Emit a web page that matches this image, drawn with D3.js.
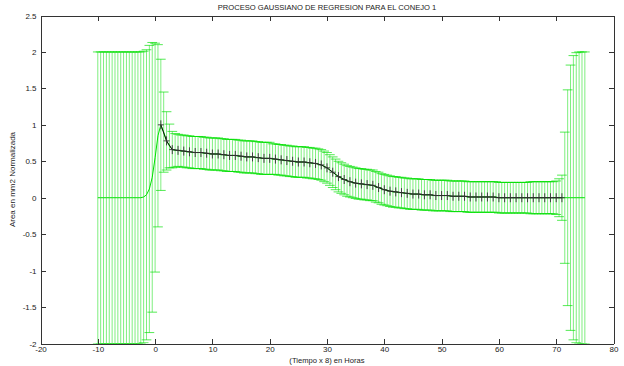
<!DOCTYPE html>
<html>
<head>
<meta charset="utf-8">
<script src="https://cdn.jsdelivr.net/npm/d3@7"></script>
<style>
  html, body { margin: 0; padding: 0; background: #fff; }
  svg { display: block; font-family: "Liberation Sans", Arial, sans-serif; }
</style>
</head>
<body>
<div id="chart"></div>
<script>
// GP prediction grid (Tiempo x 8), mean and 2-sigma band
const gpX = [
  -10, -9.5, -9, -8.5, -8, -7.5, -7, -6.5, -6, -5.5, -5, -4.5, -4, -3.5, -3, -2.5, -2, -1.5, -1, -0.5,
  0, 0.5, 1, 1.5, 2, 2.5, 3, 3.5, 4, 4.5, 5, 5.5, 6, 6.5, 7, 7.5, 8, 8.5, 9, 9.5,
  10, 10.5, 11, 11.5, 12, 12.5, 13, 13.5, 14, 14.5, 15, 15.5, 16, 16.5, 17, 17.5, 18, 18.5, 19, 19.5,
  20, 20.5, 21, 21.5, 22, 22.5, 23, 23.5, 24, 24.5, 25, 25.5, 26, 26.5, 27, 27.5, 28, 28.5, 29, 29.5,
  30, 30.5, 31, 31.5, 32, 32.5, 33, 33.5, 34, 34.5, 35, 35.5, 36, 36.5, 37, 37.5, 38, 38.5, 39, 39.5,
  40, 40.5, 41, 41.5, 42, 42.5, 43, 43.5, 44, 44.5, 45, 45.5, 46, 46.5, 47, 47.5, 48, 48.5, 49, 49.5,
  50, 50.5, 51, 51.5, 52, 52.5, 53, 53.5, 54, 54.5, 55, 55.5, 56, 56.5, 57, 57.5, 58, 58.5, 59, 59.5,
  60, 60.5, 61, 61.5, 62, 62.5, 63, 63.5, 64, 64.5, 65, 65.5, 66, 66.5, 67, 67.5, 68, 68.5, 69, 69.5,
  70, 70.5, 71, 71.5, 72, 72.5, 73, 73.5, 74, 74.5, 75
];

const gpMean = [
  0, 0, 0, 0, 0, 0, 0, 0, 0, 0, 0, 0, 0, 0, 0, 0, 0.01, 0.04, 0.12, 0.28,
  0.55, 0.85, 1.00, 0.90, 0.78, 0.71, 0.66, 0.65, 0.65, 0.64, 0.64, 0.63, 0.63, 0.62, 0.62, 0.62, 0.62, 0.61, 0.61, 0.60,
  0.60, 0.60, 0.60, 0.59, 0.59, 0.58, 0.58, 0.58, 0.58, 0.57, 0.57, 0.56, 0.56, 0.56, 0.56, 0.55, 0.55, 0.54, 0.54, 0.54,
  0.54, 0.53, 0.53, 0.52, 0.52, 0.51, 0.51, 0.50, 0.50, 0.49, 0.49, 0.49, 0.49, 0.48, 0.48, 0.47, 0.47, 0.46, 0.45, 0.43,
  0.41, 0.38, 0.35, 0.32, 0.29, 0.27, 0.25, 0.23, 0.22, 0.21, 0.20, 0.19, 0.19, 0.18, 0.18, 0.17, 0.17, 0.15, 0.14, 0.12,
  0.11, 0.10, 0.09, 0.08, 0.08, 0.07, 0.07, 0.06, 0.06, 0.05, 0.05, 0.05, 0.05, 0.04, 0.04, 0.04, 0.04, 0.03, 0.03, 0.03,
  0.03, 0.03, 0.03, 0.02, 0.02, 0.02, 0.02, 0.02, 0.02, 0.01, 0.01, 0.01, 0.01, 0.01, 0.01, 0.01, 0.01, 0.01, 0.01, 0.01,
  0, 0, 0, 0, 0, 0, 0, 0, 0, 0, 0, 0, 0, 0, 0, 0, 0, 0, 0, 0,
  0, 0, 0, 0, 0, 0, 0, 0, 0, 0, 0
];

const gpErr = [
  2.00, 2.00, 2.00, 2.00, 2.00, 2.00, 2.00, 2.00, 2.00, 2.00, 2.00, 2.00, 2.00, 2.00, 2.00, 2.00, 2.00, 1.99, 1.97, 1.85,
  1.57, 1.25, 0.90, 0.55, 0.40, 0.30, 0.25, 0.23, 0.22, 0.22, 0.22, 0.22, 0.22, 0.22, 0.22, 0.22, 0.22, 0.22, 0.22, 0.22,
  0.22, 0.22, 0.22, 0.22, 0.22, 0.22, 0.22, 0.22, 0.22, 0.22, 0.22, 0.22, 0.22, 0.22, 0.22, 0.22, 0.22, 0.22, 0.22, 0.22,
  0.22, 0.21, 0.21, 0.21, 0.21, 0.21, 0.21, 0.21, 0.21, 0.21, 0.21, 0.21, 0.21, 0.21, 0.21, 0.21, 0.21, 0.21, 0.21, 0.21,
  0.21, 0.21, 0.21, 0.21, 0.21, 0.21, 0.21, 0.21, 0.21, 0.21, 0.21, 0.21, 0.21, 0.21, 0.21, 0.21, 0.21, 0.21, 0.21, 0.21,
  0.21, 0.21, 0.21, 0.21, 0.21, 0.21, 0.21, 0.21, 0.21, 0.21, 0.21, 0.21, 0.21, 0.21, 0.21, 0.21, 0.21, 0.21, 0.21, 0.21,
  0.21, 0.21, 0.21, 0.21, 0.21, 0.21, 0.21, 0.21, 0.21, 0.21, 0.21, 0.21, 0.21, 0.21, 0.21, 0.21, 0.21, 0.21, 0.21, 0.21,
  0.21, 0.21, 0.21, 0.21, 0.21, 0.21, 0.21, 0.21, 0.21, 0.21, 0.21, 0.22, 0.22, 0.22, 0.22, 0.22, 0.22, 0.22, 0.22, 0.22,
  0.23, 0.26, 0.31, 0.90, 1.48, 1.82, 1.95, 1.99, 2.00, 2.00, 2.00
];

// Observed (normalized) area measurements
const dataX = [
  1, 2, 3, 4, 5, 6, 7, 8, 9, 10, 11, 12, 13, 14, 15, 16, 17, 18, 19, 20,
  21, 22, 23, 24, 25, 26, 27, 28, 29, 30, 31, 32, 33, 34, 35, 36, 37, 38, 39, 40,
  41, 42, 43, 44, 45, 46, 47, 48, 49, 50, 51, 52, 53, 54, 55, 56, 57, 58, 59, 60,
  61, 62, 63, 64, 65, 66, 67, 68, 69, 70, 71
];
const dataY = [
  1.00, 0.78, 0.66, 0.65, 0.64, 0.63, 0.62, 0.62, 0.61, 0.60, 0.60, 0.59, 0.58, 0.58, 0.57, 0.56, 0.56, 0.55, 0.54, 0.54,
  0.53, 0.52, 0.51, 0.50, 0.49, 0.49, 0.48, 0.47, 0.45, 0.41, 0.35, 0.29, 0.25, 0.22, 0.20, 0.19, 0.18, 0.17, 0.14, 0.11,
  0.09, 0.08, 0.07, 0.06, 0.05, 0.05, 0.04, 0.04, 0.03, 0.03, 0.03, 0.02, 0.02, 0.02, 0.01, 0.01, 0.01, 0.01, 0.01, 0.00,
  0, 0, 0, 0, 0, 0, 0, 0, 0, 0, 0
];

const xTicks = [-20, -10, 0, 10, 20, 30, 40, 50, 60, 70, 80];
const yTicks = [-2, -1.5, -1, -0.5, 0, 0.5, 1, 1.5, 2, 2.5];

const titleText = 'PROCESO GAUSSIANO DE REGRESION PARA EL CONEJO 1';
const xLabel = '(Tiempo x 8) en Horas';
const yLabel = 'Area en mm2 Normalizada';

// --- layout ---
const width = 624, height = 366;
const plot = { left: 40.5, right: 613.5, top: 15.5, bottom: 343.5 };
const tee = 0.85;          // half width of error bar caps, x units
const green = '#00e000';

const x = d3.scaleLinear().domain([-20, 80]).range([plot.left, plot.right]);
const y = d3.scaleLinear().domain([-2, 2.5]).range([plot.bottom, plot.top]);

const svg = d3.select('#chart').append('svg')
  .attr('width', width)
  .attr('height', height);

svg.append('rect').attr('width', width).attr('height', height).attr('fill', '#fff');

svg.append('defs').append('clipPath').attr('id', 'plot-clip')
  .append('rect')
  .attr('x', plot.left).attr('y', plot.top)
  .attr('width', plot.right - plot.left)
  .attr('height', plot.bottom - plot.top);

const gp = gpX.map((v, i) => ({ x: v, m: gpMean[i], e: gpErr[i] }));
const pts = dataX.map((v, i) => ({ x: v, y: dataY[i] }));

const layer = svg.append('g').attr('clip-path', 'url(#plot-clip)');

// green error bars
const bars = layer.append('g').attr('class', 'gp-bars');
bars.selectAll('line.stem')
  .data(gp).enter().append('line')
  .attr('class', 'stem')
  .attr('x1', d => x(d.x)).attr('x2', d => x(d.x))
  .attr('y1', d => y(d.m + d.e)).attr('y2', d => y(d.m - d.e))
  .attr('stroke', green).attr('stroke-opacity', 0.5).attr('stroke-width', 1);

['top', 'bot'].forEach(side => {
  bars.selectAll('line.cap-' + side)
    .data(gp).enter().append('line')
    .attr('class', 'cap-' + side)
    .attr('x1', d => x(d.x - tee)).attr('x2', d => x(d.x + tee))
    .attr('y1', d => y(side === 'top' ? d.m + d.e : d.m - d.e))
    .attr('y2', d => y(side === 'top' ? d.m + d.e : d.m - d.e))
    .attr('stroke', green).attr('stroke-opacity', 0.75).attr('stroke-width', 0.9);
});

// green mean line
layer.append('path')
  .datum(gp)
  .attr('fill', 'none')
  .attr('stroke', green)
  .attr('stroke-width', 1)
  .attr('d', d3.line().x(d => x(d.x)).y(d => y(d.m)));

// black data line with + markers
layer.append('path')
  .datum(pts)
  .attr('fill', 'none')
  .attr('stroke', '#111')
  .attr('stroke-width', 1)
  .attr('d', d3.line().x(d => x(d.x)).y(d => y(d.y)));

layer.append('g').selectAll('path')
  .data(pts).enter().append('path')
  .attr('fill', 'none')
  .attr('stroke', '#333')
  .attr('stroke-width', 0.9)
  .attr('d', d => {
    const cx = x(d.x), cy = y(d.y);
    return `M${cx},${cy - 4.5}V${cy + 4.5}M${cx - 3},${cy}H${cx + 3}`;
  });

// --- axes (MATLAB style box, ticks inside) ---
const fmt = d => String(d);
const axisColor = '#333';

function styleAxis(g) {
  g.selectAll('path, line').attr('stroke', axisColor).attr('shape-rendering', 'crispEdges');
  g.selectAll('text').attr('fill', '#222').attr('font-size', 8)
    .attr('font-family', '"Liberation Sans", Arial, sans-serif');
}

svg.append('g')
  .attr('transform', `translate(0,${plot.bottom})`)
  .call(d3.axisBottom(x).tickValues(xTicks).tickFormat(fmt).tickSizeInner(-5).tickSizeOuter(0).tickPadding(3))
  .call(styleAxis);

svg.append('g')
  .attr('transform', `translate(0,${plot.top})`)
  .call(d3.axisTop(x).tickValues(xTicks).tickFormat('').tickSizeInner(-5).tickSizeOuter(0))
  .call(styleAxis);

svg.append('g')
  .attr('transform', `translate(${plot.left},0)`)
  .call(d3.axisLeft(y).tickValues(yTicks).tickFormat(fmt).tickSizeInner(-5).tickSizeOuter(0).tickPadding(4))
  .call(styleAxis);

svg.append('g')
  .attr('transform', `translate(${plot.right},0)`)
  .call(d3.axisRight(y).tickValues(yTicks).tickFormat('').tickSizeInner(-5).tickSizeOuter(0))
  .call(styleAxis);

// --- labels ---
svg.append('text')
  .attr('x', (plot.left + plot.right) / 2).attr('y', 10)
  .attr('text-anchor', 'middle')
  .attr('font-size', 7.6).attr('fill', '#222')
  .text(titleText);

svg.append('text')
  .attr('x', (plot.left + plot.right) / 2).attr('y', 363)
  .attr('text-anchor', 'middle')
  .attr('font-size', 7.6).attr('fill', '#222')
  .text(xLabel);

svg.append('text')
  .attr('transform', `translate(15,${(plot.top + plot.bottom) / 2}) rotate(-90)`)
  .attr('text-anchor', 'middle')
  .attr('font-size', 8).attr('fill', '#222')
  .text(yLabel);
</script>
</body>
</html>
